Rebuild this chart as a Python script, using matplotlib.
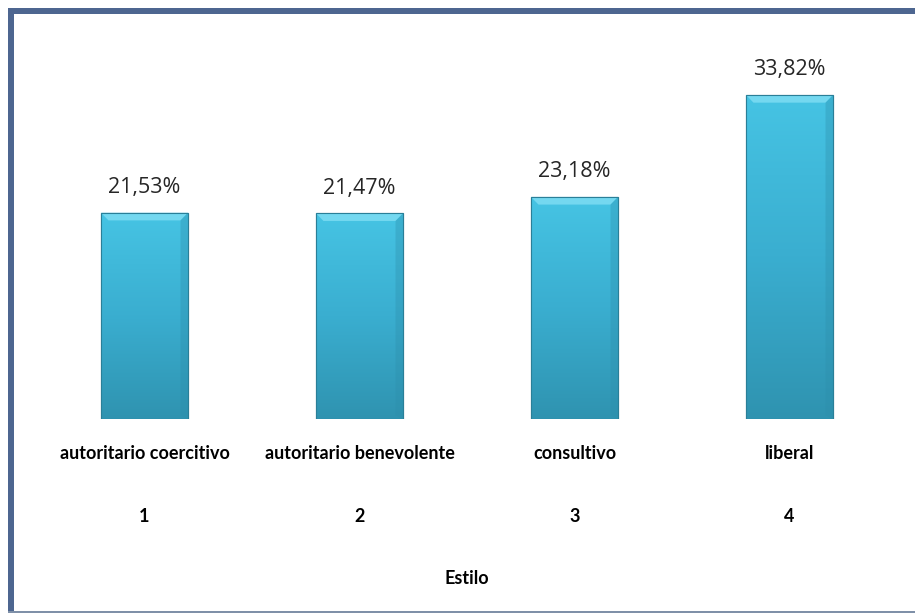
import matplotlib.pyplot as plt
import numpy as np
from matplotlib.patches import Rectangle, Polygon
from matplotlib.colors import LinearSegmentedColormap

categories = ['autoritario coercitivo', 'autoritario benevolente', 'consultivo', 'liberal']
numbers = ['1', '2', '3', '4']
values = [21.53, 21.47, 23.18, 33.82]
value_labels = ['21,53%', '21,47%', '23,18%', '33,82%']
xlabel = 'Estilo'

W, H = 915, 613
fig = plt.figure(figsize=(W / 100, H / 100), dpi=100)
fig.patch.set_facecolor('white')

# axes placed in pixel units
left, right, top, base = 37, 897, 40, 419
ax = fig.add_axes([left / W, (H - base) / H, (right - left) / W, (base - top) / H])
ax.set_xlim(-0.5, 3.5)
ax.set_ylim(0, 39.56)
ax.axis('off')

x = np.arange(len(values))
bw = 0.405
bars = ax.bar(x, values, width=bw, color='#3fb7d8', edgecolor='#2a7f98', linewidth=0.8, zorder=2)

cmap = LinearSegmentedColormap.from_list('bar', ['#2f93b0', '#3aaed0', '#46c4e4'])
grad = np.linspace(0, 1, 256).reshape(-1, 1)
for b, v in zip(bars, values):
    im = ax.imshow(grad, cmap=cmap, origin='lower', aspect='auto',
                   extent=(b.get_x(), b.get_x() + bw, 0, v), zorder=3)
    im.set_clip_path(b)
    # bevel on top
    dx = 0.035
    dy = 0.8
    x0, x1 = b.get_x(), b.get_x() + bw
    ax.add_patch(Polygon([(x0, v), (x1, v), (x1 - dx, v - dy), (x0 + dx, v - dy)],
                         closed=True, facecolor='#74d8f0', edgecolor='none', zorder=4))
    ax.add_patch(Polygon([(x1, v), (x1, 0), (x1 - dx, dy * 0.5), (x1 - dx, v - dy)],
                         closed=True, facecolor='#2d8eab', edgecolor='none', alpha=0.35, zorder=4))
    ax.add_patch(Rectangle((x0, 0), bw, v, fill=False, edgecolor='#2a7f98', linewidth=0.8, zorder=5))

for xi, v, lab in zip(x, values, value_labels):
    ax.annotate(lab, (xi, v), xytext=(0, 18), textcoords='offset points',
                ha='center', va='center', fontsize=15.5, color='#262626', family='Open Sans')

for xi, cat, n in zip(x, categories, numbers):
    ax.annotate(cat, (xi, 0), xytext=(0, -24.5), textcoords='offset points',
                ha='center', va='center', fontsize=13, color='black', family='Lato',
                fontweight='bold', annotation_clip=False)
    ax.annotate(n, (xi, 0), xytext=(0, -70), textcoords='offset points',
                ha='center', va='center', fontsize=13, color='black', family='Lato',
                fontweight='bold', annotation_clip=False)

ax.annotate(xlabel, (1.5, 0), xytext=(0, -114.5), textcoords='offset points',
            ha='center', va='center', fontsize=13, color='black', family='Lato',
            fontweight='bold', annotation_clip=False)

# frame
frame = '#4d6690'
fig.patches.append(Rectangle((8 / W, 0), 6 / W, (H - 8) / H, transform=fig.transFigure,
                             facecolor=frame, edgecolor='none'))
fig.patches.append(Rectangle((8 / W, (H - 14) / H), (W - 8) / W, 6 / H, transform=fig.transFigure,
                             facecolor=frame, edgecolor='none'))
fig.patches.append(Rectangle((8 / W, 0), (W - 8) / W, 2 / H, transform=fig.transFigure,
                             facecolor='#7f90a8', edgecolor='none'))

fig.savefig('out.png', dpi=100)
